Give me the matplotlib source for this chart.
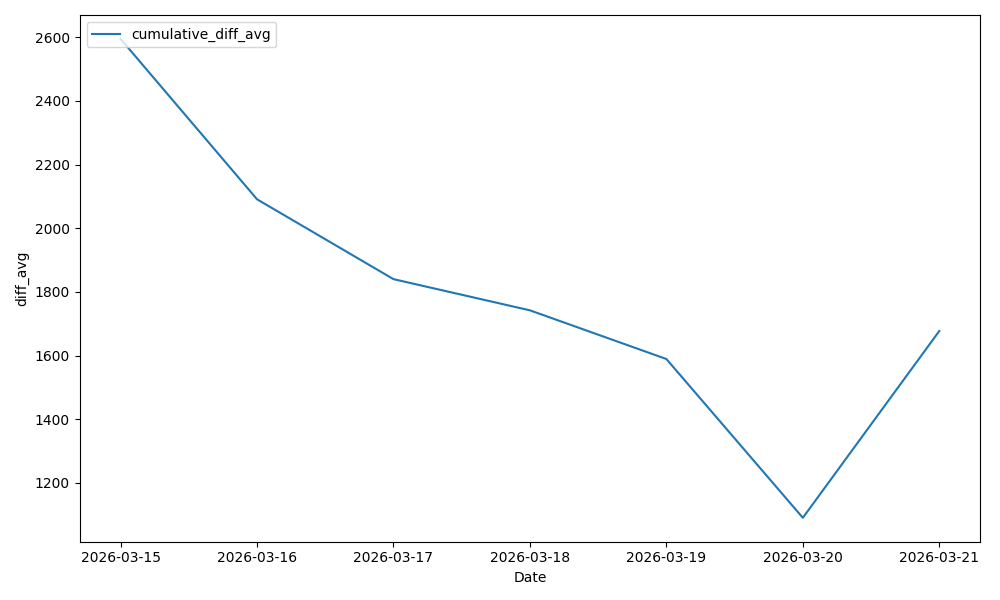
import pandas as pd
import matplotlib
matplotlib.use("Agg")
import matplotlib.pyplot as plt

# data
dates = ["2026-03-15", "2026-03-16", "2026-03-17", "2026-03-18",
         "2026-03-19", "2026-03-20", "2026-03-21"]
diff_avg = [2595, 2091, 1840, 1742, 1589, 1090, 1677]

x = pd.to_datetime(dates)

plt.figure(figsize=(10, 6))
plt.plot(x, diff_avg, label="cumulative_diff_avg")
plt.xticks(x, dates)
plt.xlabel("Date")
plt.ylabel("diff_avg")
plt.legend(loc="upper left")
plt.tight_layout()
plt.savefig("out.png", dpi=100)
